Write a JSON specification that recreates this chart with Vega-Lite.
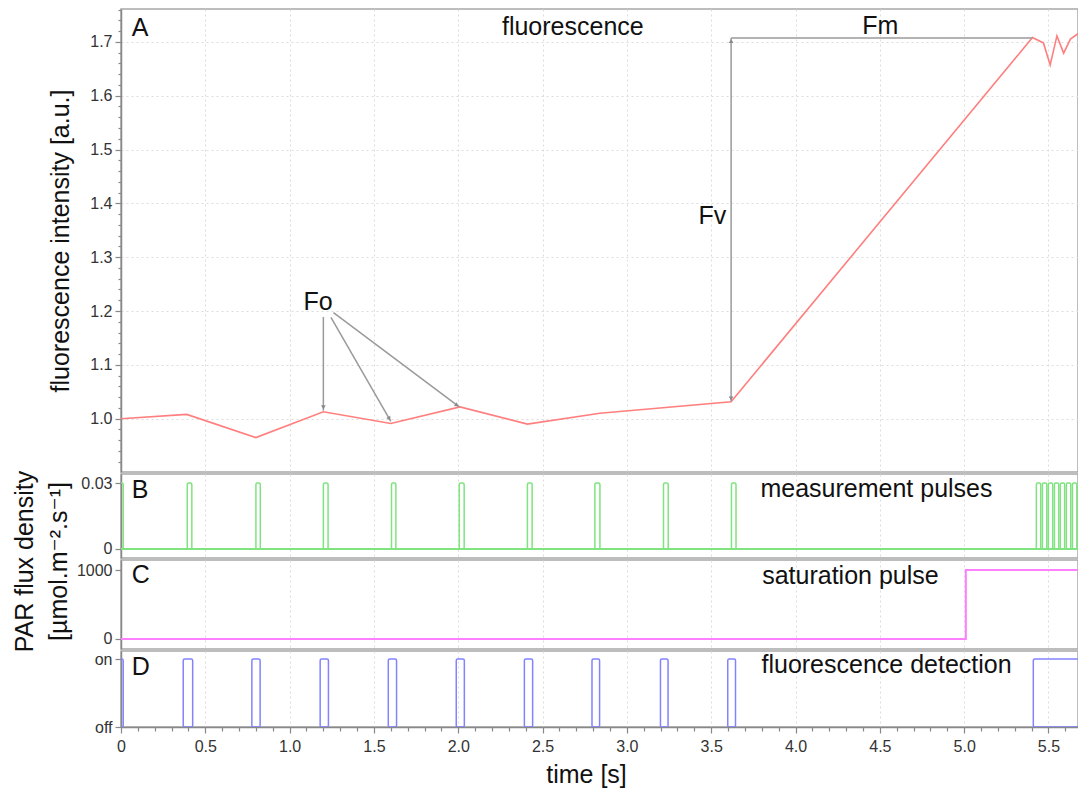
{
  "$schema": "https://vega.github.io/schema/vega-lite/v6.json",
  "padding": {"left": 11, "top": 0, "right": 0, "bottom": 4},
  "spacing": 2,
  "bounds": "flush",
  "config": {
    "font": "Liberation Sans, Arial, DejaVu Sans, sans-serif",
    "view": {"stroke": "#a8a8a8", "strokeWidth": 1.5},
    "axis": {
      "domainColor": "#888888",
      "domainWidth": 1.5,
      "tickColor": "#888888",
      "tickWidth": 1.2,
      "labelColor": "#333333",
      "labelFontSize": 16,
      "labelOverlap": false,
      "labelFlush": false,
      "titleFontSize": 25,
      "titleFontWeight": "normal",
      "titleColor": "#111111",
      "gridColor": "#dcdcdc",
      "gridDash": [2, 3],
      "gridWidth": 1
    },
    "text": {"font": "Liberation Sans, Arial, DejaVu Sans, sans-serif"}
  },
  "datasets": {
    "fluor": [
      {"t": 0.0, "v": 1.0},
      {"t": 0.39, "v": 1.008},
      {"t": 0.80, "v": 0.965},
      {"t": 1.20, "v": 1.013},
      {"t": 1.60, "v": 0.991},
      {"t": 2.01, "v": 1.022},
      {"t": 2.41, "v": 0.990},
      {"t": 2.84, "v": 1.010},
      {"t": 3.618, "v": 1.0316},
      {"t": 5.405, "v": 1.708},
      {"t": 5.47, "v": 1.698},
      {"t": 5.51, "v": 1.657},
      {"t": 5.55, "v": 1.711},
      {"t": 5.59, "v": 1.679},
      {"t": 5.63, "v": 1.705},
      {"t": 5.67, "v": 1.714},
      {"t": 5.70, "v": 1.716}
    ],
    "arrows": [
      {"t": 1.200, "v": 1.189, "t2": 1.200, "v2": 1.015},
      {"t": 1.245, "v": 1.188, "t2": 1.600, "v2": 0.995},
      {"t": 1.260, "v": 1.197, "t2": 2.006, "v2": 1.022},
      {"t": 3.618, "v": 1.707, "t2": 3.618, "v2": 1.032},
      {"t": 3.618, "v": 1.707, "t2": 5.405, "v2": 1.707}
    ],
    "heads": [
      {"t": 1.200, "v": 1.021, "angle": 180},
      {"t": 1.591, "v": 1.000, "angle": 150},
      {"t": 1.992, "v": 1.025, "angle": 127},
      {"t": 3.618, "v": 1.7015, "angle": 0},
      {"t": 3.618, "v": 1.0375, "angle": 180}
    ],
    "labelsA": [
      {"t": 0.0635, "v": 1.711, "label": "A"},
      {"t": 2.259, "v": 1.7126, "label": "fluorescence"},
      {"t": 4.396, "v": 1.715, "label": "Fm"},
      {"t": 3.424, "v": 1.362, "label": "Fv"},
      {"t": 1.082, "v": 1.2015, "label": "Fo"}
    ],
    "meas": [
      {"start": -0.02, "end": 0.013, "level": 0.03},
      {"start": 0.393, "end": 0.420, "level": 0.03},
      {"start": 0.800, "end": 0.826, "level": 0.03},
      {"start": 1.200, "end": 1.228, "level": 0.03},
      {"start": 1.604, "end": 1.630, "level": 0.03},
      {"start": 2.006, "end": 2.035, "level": 0.03},
      {"start": 2.410, "end": 2.438, "level": 0.03},
      {"start": 2.810, "end": 2.840, "level": 0.03},
      {"start": 3.217, "end": 3.245, "level": 0.03},
      {"start": 3.620, "end": 3.647, "level": 0.03},
      {"start": 5.428, "end": 5.454, "level": 0.03},
      {"start": 5.464, "end": 5.490, "level": 0.03},
      {"start": 5.499, "end": 5.525, "level": 0.03},
      {"start": 5.535, "end": 5.561, "level": 0.03},
      {"start": 5.570, "end": 5.596, "level": 0.03},
      {"start": 5.606, "end": 5.632, "level": 0.03},
      {"start": 5.642, "end": 5.668, "level": 0.03}
    ],
    "sat": [
      {"t": 0.0, "v": 0},
      {"t": 5.01, "v": 1000},
      {"t": 5.72, "v": 1000}
    ],
    "det": [
      {"start": -0.03, "end": 0.013, "level": 1},
      {"start": 0.369, "end": 0.425, "level": 1},
      {"start": 0.776, "end": 0.825, "level": 1},
      {"start": 1.181, "end": 1.230, "level": 1},
      {"start": 1.585, "end": 1.634, "level": 1},
      {"start": 1.988, "end": 2.036, "level": 1},
      {"start": 2.392, "end": 2.441, "level": 1},
      {"start": 2.793, "end": 2.838, "level": 1},
      {"start": 3.199, "end": 3.244, "level": 1},
      {"start": 3.598, "end": 3.644, "level": 1},
      {"start": 5.410, "end": 5.800, "level": 1}
    ],
    "labelsB": [
      {"start": 0.0635, "level": 0.0232, "label": "B"},
      {"start": 3.792, "level": 0.0236, "label": "measurement pulses"}
    ],
    "labelsC": [
      {"t": 0.0635, "v": 816, "label": "C"},
      {"t": 3.802, "v": 797, "label": "saturation pulse"}
    ],
    "labelsD": [
      {"start": 0.0635, "level": 0.765, "label": "D"},
      {"start": 3.798, "level": 0.794, "label": "fluorescence detection"}
    ]
  },
  "vconcat": [
    {
      "width": 957,
      "height": 463,
      "layer": [
        {
          "data": {"name": "fluor"},
          "mark": {"type": "line", "color": "#ff7f7f", "strokeWidth": 1.6, "clip": true},
          "encoding": {
            "x": {"field": "t", "type": "quantitative",
                  "scale": {"domain": [0, 5.675], "nice": false, "zero": false},
                  "axis": {"values": [0.5, 1, 1.5, 2, 2.5, 3, 3.5, 4, 4.5, 5, 5.5], "tickCount": 200, "labels": false, "ticks": false, "domain": false, "grid": true, "title": null}},
            "y": {"field": "v", "type": "quantitative",
                  "scale": {"domain": [0.901, 1.761], "nice": false, "zero": false},
                  "axis": {
                    "values": [0.92,0.94,0.96,0.98,1.0,1.02,1.04,1.06,1.08,1.1,1.12,1.14,1.16,1.18,1.2,1.22,1.24,1.26,1.28,1.3,1.32,1.34,1.36,1.38,1.4,1.42,1.44,1.46,1.48,1.5,1.52,1.54,1.56,1.58,1.6,1.62,1.64,1.66,1.68,1.7,1.72,1.74,1.76],
                    "tickCount": 200,
                    "labelExpr": "(abs(datum.value*10 - round(datum.value*10)) < 0.001 && datum.value > 0.95 && datum.value < 1.75) ? format(datum.value, '.1f') : ''",
                    "labelOverlap": false,
                    "tickSize": {"condition": {"test": "abs(datum.value*10 - round(datum.value*10)) < 0.001", "value": 6}, "value": 3},
                    "grid": true,
                    "gridOpacity": {"condition": {"test": "abs(datum.value*10 - round(datum.value*10)) < 0.001", "value": 1}, "value": 0},
                    "labelPadding": 3,
                    "title": "fluorescence intensity [a.u.]",
                    "titlePadding": 16
                  }}
          }
        },
        {
          "data": {"name": "arrows"},
          "mark": {"type": "rule", "color": "#9a9a9a", "strokeWidth": 1.5},
          "encoding": {
            "x": {"field": "t", "type": "quantitative"},
            "x2": {"field": "t2"},
            "y": {"field": "v", "type": "quantitative"},
            "y2": {"field": "v2"}
          }
        },
        {
          "data": {"name": "heads"},
          "mark": {"type": "point", "shape": "triangle-up", "filled": true, "color": "#8a8a8a", "size": 22, "opacity": 1},
          "encoding": {
            "x": {"field": "t", "type": "quantitative"},
            "y": {"field": "v", "type": "quantitative"},
            "angle": {"field": "angle", "type": "quantitative", "scale": null}
          }
        },
        {
          "data": {"name": "labelsA"},
          "mark": {"type": "text", "align": "left", "baseline": "alphabetic", "fontSize": 25, "color": "#111111"},
          "encoding": {
            "x": {"field": "t", "type": "quantitative"},
            "y": {"field": "v", "type": "quantitative"},
            "text": {"field": "label"}
          }
        }
      ]
    },
    {
      "width": 957,
      "height": 84,
      "layer": [
        {
          "data": {"name": "meas"},
          "mark": {"type": "rect", "fillOpacity": 0, "fill": "white", "stroke": "#7fe37f", "strokeWidth": 1.5, "cornerRadius": 1.5, "clip": true},
          "encoding": {
            "x": {"field": "start", "type": "quantitative",
                  "scale": {"domain": [0, 5.675], "nice": false, "zero": false},
                  "axis": {"values": [0.5, 1, 1.5, 2, 2.5, 3, 3.5, 4, 4.5, 5, 5.5], "tickCount": 200, "labels": false, "ticks": false, "domain": false, "grid": true, "title": null}},
            "x2": {"field": "end"},
            "y": {"field": "level", "type": "quantitative",
                  "scale": {"domain": [-0.0041, 0.0341], "nice": false, "zero": false},
                  "axis": {"values": [0, 0.03], "labelExpr": "datum.value == 0 ? '0' : '0.03'", "tickSize": 6, "labelPadding": 3, "grid": false, "title": null}},
            "y2": {"datum": 0}
          }
        },
        {
          "data": {"name": "meas"},
          "mark": {"type": "rule", "color": "#7fe37f", "strokeWidth": 1.5},
          "encoding": {
            "x": {"datum": 0, "type": "quantitative"},
            "x2": {"datum": 5.675},
            "y": {"datum": 0, "type": "quantitative"}
          }
        },
        {
          "data": {"name": "labelsB"},
          "mark": {"type": "text", "align": "left", "baseline": "alphabetic", "fontSize": 25, "color": "#111111"},
          "encoding": {
            "x": {"field": "start", "type": "quantitative"},
            "y": {"field": "level", "type": "quantitative"},
            "text": {"field": "label"}
          }
        }
      ]
    },
    {
      "width": 957,
      "height": 89,
      "layer": [
        {
          "data": {"name": "sat"},
          "mark": {"type": "line", "interpolate": "step-after", "color": "#ff80ff", "strokeWidth": 2, "clip": true},
          "encoding": {
            "x": {"field": "t", "type": "quantitative",
                  "scale": {"domain": [0, 5.675], "nice": false, "zero": false},
                  "axis": {"values": [0.5, 1, 1.5, 2, 2.5, 3, 3.5, 4, 4.5, 5, 5.5], "tickCount": 200, "labels": false, "ticks": false, "domain": false, "grid": true, "title": null}},
            "y": {"field": "v", "type": "quantitative",
                  "scale": {"domain": [-145, 1145], "nice": false, "zero": false},
                  "axis": {"values": [0, 1000], "format": "d", "tickSize": 6, "labelPadding": 3, "grid": false,
                           "title": ["PAR flux density", "[µmol.m⁻².s⁻¹]"],
                           "titleLineHeight": 34, "titleY": 1, "titlePadding": 5}}
          }
        },
        {
          "data": {"name": "labelsC"},
          "mark": {"type": "text", "align": "left", "baseline": "alphabetic", "fontSize": 25, "color": "#111111"},
          "encoding": {
            "x": {"field": "t", "type": "quantitative"},
            "y": {"field": "v", "type": "quantitative"},
            "text": {"field": "label"}
          }
        }
      ]
    },
    {
      "width": 957,
      "height": 76,
      "layer": [
        {
          "data": {"name": "det"},
          "mark": {"type": "rect", "fillOpacity": 0, "fill": "white", "stroke": "#8383ff", "strokeWidth": 1.5, "cornerRadius": 1.5, "clip": true},
          "encoding": {
            "x": {"field": "start", "type": "quantitative",
                  "scale": {"domain": [0, 5.675], "nice": false, "zero": false},
                  "axis": {
                    "values": [0,0.1,0.2,0.3,0.4,0.5,0.6,0.7,0.8,0.9,1,1.1,1.2,1.3,1.4,1.5,1.6,1.7,1.8,1.9,2,2.1,2.2,2.3,2.4,2.5,2.6,2.7,2.8,2.9,3,3.1,3.2,3.3,3.4,3.5,3.6,3.7,3.8,3.9,4,4.1,4.2,4.3,4.4,4.5,4.6,4.7,4.8,4.9,5,5.1,5.2,5.3,5.4,5.5,5.6],
                    "tickCount": 200,
                    "labelExpr": "abs(datum.value*2 - round(datum.value*2)) < 0.001 ? (datum.value == 0 ? '0' : format(datum.value, '.1f')) : ''",
                    "labelOverlap": false,
                    "labelFlush": false,
                    "tickSize": {"condition": {"test": "abs(datum.value*2 - round(datum.value*2)) < 0.001", "value": 6}, "value": 4},
                    "grid": true,
                    "gridOpacity": {"condition": {"test": "abs(datum.value*2 - round(datum.value*2)) < 0.001 && datum.value > 0", "value": 1}, "value": 0},
                    "labelPadding": 5,
                    "title": "time [s]",
                    "titleX": 465,
                    "titlePadding": 8
                  }},
            "x2": {"field": "end"},
            "y": {"field": "level", "type": "quantitative",
                  "scale": {"domain": [0, 1.118], "nice": false, "zero": false},
                  "axis": {"values": [0, 1], "labelExpr": "datum.value == 1 ? 'on' : 'off'", "tickSize": 6, "labelPadding": 3, "grid": false, "title": null}},
            "y2": {"datum": 0}
          }
        },
        {
          "data": {"name": "labelsD"},
          "mark": {"type": "text", "align": "left", "baseline": "alphabetic", "fontSize": 25, "color": "#111111"},
          "encoding": {
            "x": {"field": "start", "type": "quantitative"},
            "y": {"field": "level", "type": "quantitative"},
            "text": {"field": "label"}
          }
        }
      ]
    }
  ]
}
